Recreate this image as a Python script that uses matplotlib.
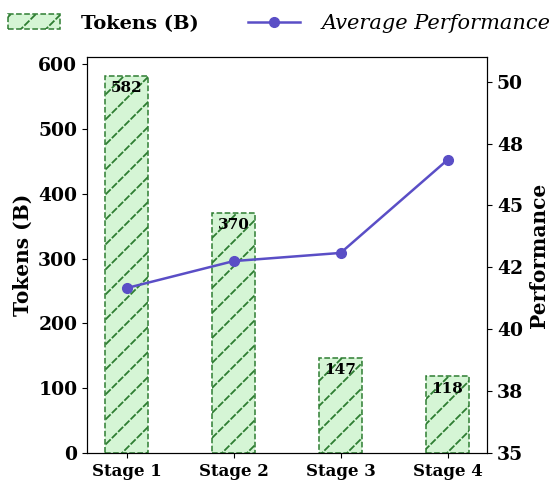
import matplotlib
matplotlib.use("Agg")
import matplotlib.pyplot as plt
import matplotlib.hatch as mhatch
from matplotlib.path import Path
import numpy as np

stages = ["Stage 1", "Stage 2", "Stage 3", "Stage 4"]
tokens = [582, 370, 147, 118]
performance = [41.66, 42.75, 43.08, 46.84]
perf_ticks = [35, 37.5, 40, 42.5, 45, 47.5, 50]

# dashed "/" hatch pattern
HATCH_LINES = 4
HATCH_DASHES = 16
HATCH_FRAC = 0.6


class DashedNorthEast(mhatch.HatchPatternBase):
    def __init__(self, hatch, density):
        n = hatch.count('/')
        if n:
            self.num_vertices = (2 * HATCH_LINES + 1) * HATCH_DASHES * 2
        else:
            self.num_vertices = 0

    def set_vertices_and_codes(self, vertices, codes):
        offs = np.arange(-HATCH_LINES, HATCH_LINES + 1) / HATCH_LINES
        t0 = np.arange(HATCH_DASHES) / HATCH_DASHES
        t1 = t0 + HATCH_FRAC / HATCH_DASHES
        c, a = np.meshgrid(offs, t0, indexing='ij')
        _, b = np.meshgrid(offs, t1, indexing='ij')
        a = a.ravel(); b = b.ravel(); c = c.ravel()
        vertices[0::2, 0] = a
        vertices[0::2, 1] = a + c
        vertices[1::2, 0] = b
        vertices[1::2, 1] = b + c
        codes[0::2] = Path.MOVETO
        codes[1::2] = Path.LINETO


mhatch._hatch_types = [DashedNorthEast if t is mhatch.NorthEastHatch else t
                       for t in mhatch._hatch_types]

plt.rcParams['font.family'] = ['DejaVu Serif']
plt.rcParams['font.weight'] = 'bold'
plt.rcParams['hatch.color'] = '#2e7d32'
plt.rcParams['hatch.linewidth'] = 1.3

fig, ax = plt.subplots(figsize=(5.58, 4.86), dpi=100)
x = np.arange(len(stages))
bars = ax.bar(x, tokens, width=0.4, color='#d5f5d5', edgecolor='#2e7d32',
              linestyle='--', linewidth=1.1, hatch='/', label='Tokens (B)')
for xi, v in zip(x, tokens):
    ax.text(xi, v - 8, str(v), ha='center', va='top', fontsize=11, fontweight='bold')
ax.set_ylim(0, max(tokens) * 1.05)
ax.set_ylabel('Tokens (B)', fontsize=14.5, fontweight='bold', labelpad=4)
ax.set_xticks(x)
ax.set_xticklabels(stages, fontsize=12, fontweight='bold')
ax.tick_params(axis='y', labelsize=13.5)
for lab in ax.get_yticklabels():
    lab.set_fontweight('bold')

ax2 = ax.twinx()
line, = ax2.plot(x, performance, color='#5a4ec6', marker='o', markersize=7,
                 linewidth=1.8, label='Average Performance')
ax2.set_ylim(35, 51)
ax2.set_yticks(perf_ticks)
ax2.set_yticklabels([f"{t:.0f}" for t in perf_ticks], fontsize=13.5, fontweight='bold')
ax2.set_ylabel('Performance', fontsize=14.5, fontweight='bold', labelpad=4)

leg = fig.legend([bars, line], ['Tokens (B)', 'Average Performance'], loc='upper center',
                 ncol=2, frameon=False, fontsize=15, bbox_to_anchor=(0.5, 1.01),
                 columnspacing=2.4, handlelength=2.5, handletextpad=1.0)
leg.get_texts()[0].set_fontweight('bold')
leg.get_texts()[0].set_fontsize(14)
leg.get_texts()[1].set_fontstyle('italic')
leg.get_texts()[1].set_fontweight('normal')

fig.subplots_adjust(left=0.156, right=0.873, top=0.883, bottom=0.068)
fig.savefig('out.png', dpi=100)
